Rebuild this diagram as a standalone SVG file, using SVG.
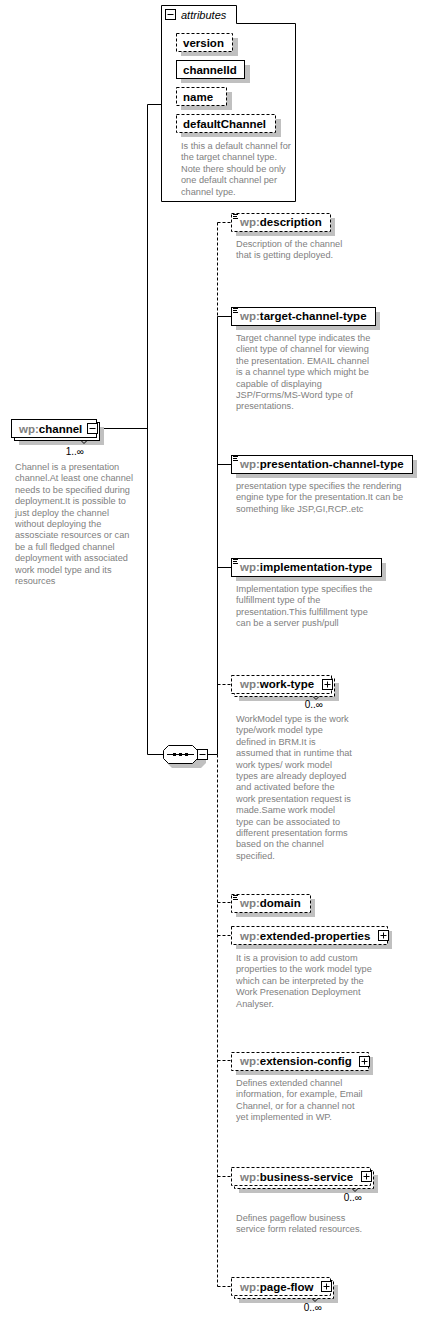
<svg xmlns="http://www.w3.org/2000/svg" width="427" height="1321" viewBox="0 0 427 1321">
<style>
.bg{fill:#fff}
.box{fill:#fff;stroke:#000;stroke-width:1}
.opt{stroke-dasharray:3,2}
.sh{fill:#c0c0c0}
.ln{fill:none;stroke:#000;stroke-width:1}
.dl{fill:none;stroke:#000;stroke-width:1;stroke-dasharray:3,2}
.lbl{font-family:"Liberation Sans",Arial,sans-serif;font-size:11.5px;font-weight:bold;fill:#000}
.ns{fill:#808080}
.doc{font-family:"Liberation Sans",Arial,sans-serif;font-size:9.2px;fill:#808080}
.mult{font-family:"Liberation Sans",Arial,sans-serif;font-size:10px;fill:#000}
.att{font-family:"Liberation Sans",Arial,sans-serif;font-size:11px;font-style:italic;fill:#000}
</style>
<defs>
<g id="simpleIcon"><path d="M2,1.5H7M2,3.5H6M2,5.5H7" stroke="#000" stroke-width="1" fill="none"/></g>
<g id="plusBtn"><rect x="0.5" y="0.5" width="10" height="10" fill="#fff" stroke="#000"/><path d="M2.5,5.5H8.5M5.5,2.5V8.5" stroke="#000"/></g>
<g id="minusBtn"><rect x="0.5" y="0.5" width="10" height="10" fill="#fff" stroke="#000"/><path d="M2.5,5.5H8.5" stroke="#000"/></g>
</defs>
<rect class="bg" x="0" y="0" width="427" height="1321"/>

<g id="connectors">
<path class="ln" d="M97,428.5H147.5M147.5,104.5V754.5M147.5,104.5H162M147.5,754.5H163M207,754.5H217.5"/>
<path class="dl" d="M217.5,222.5V316.5M217.5,754.5V1286.5"/>
<path class="ln" d="M217.5,316.5V754.5"/>
<path class="dl" d="M217.5,222.5H231M217.5,684.5H231M217.5,902.5H231M217.5,935.5H231M217.5,1060.5H231M217.5,1176.5H231M217.5,1286.5H231"/>
<path class="ln" d="M217.5,316.5H231M217.5,464.5H231M217.5,567.5H231"/>
</g>

<g id="attributes">
<path class="box" d="M161.5,201.5V5.5H236.5V23.5H295.5V201.5Z"/>
<use href="#minusBtn" x="165" y="9"/>
<text class="att" x="181" y="19">attributes</text>
<g id="attr-version">
<rect class="sh" x="181" y="38" width="57" height="18"/>
<rect class="box opt" x="176.5" y="33.5" width="56" height="18"/>
<text class="lbl" x="183" y="47">version</text>
</g>
<g id="attr-channelId">
<rect class="sh" x="181" y="65" width="69" height="18"/>
<rect class="box" x="176.5" y="60.5" width="68" height="18"/>
<text class="lbl" x="183" y="74">channelId</text>
</g>
<g id="attr-name">
<rect class="sh" x="181" y="92" width="51" height="18"/>
<rect class="box opt" x="176.5" y="87.5" width="50" height="18"/>
<text class="lbl" x="183" y="101">name</text>
</g>
<g id="attr-defaultChannel">
<rect class="sh" x="181" y="119" width="100" height="18"/>
<rect class="box opt" x="176.5" y="114.5" width="99" height="18"/>
<text class="lbl" x="183" y="128">defaultChannel</text>
<text class="doc"><tspan x="181" y="149">Is this a default channel for</tspan><tspan x="181" dy="11.4">the target channel type.</tspan><tspan x="181" dy="11.4">Note there should be only</tspan><tspan x="181" dy="11.4">one default channel per</tspan><tspan x="181" dy="11.4">channel type.</tspan></text>
</g>
</g>

<g id="channel">
<rect class="sh" x="19" y="427" width="85" height="18"/>
<rect class="box" x="14.5" y="422.5" width="85" height="18"/>
<rect class="box" x="11.5" y="419.5" width="85" height="18"/>
<text class="lbl" x="19" y="433"><tspan class="ns">wp:</tspan>channel</text>
<use href="#minusBtn" x="87" y="423"/>
<path class="ln" d="M81,440.5L84,443.5L87,440.5"/>
<text class="mult" x="84" y="455" text-anchor="end">1..∞</text>
<text class="doc"><tspan x="15" y="470">Channel is a presentation</tspan><tspan x="15" dy="11.4">channel.At least one channel</tspan><tspan x="15" dy="11.4">needs to be specified during</tspan><tspan x="15" dy="11.4">deployment.It is possible to</tspan><tspan x="15" dy="11.4">just deploy the channel</tspan><tspan x="15" dy="11.4">without deploying the</tspan><tspan x="15" dy="11.4">assosciate resources or can</tspan><tspan x="15" dy="11.4">be a full fledged channel</tspan><tspan x="15" dy="11.4">deployment with associated</tspan><tspan x="15" dy="11.4">work model type and its</tspan><tspan x="15" dy="11.4">resources</tspan></text>
</g>

<g id="sequence">
<path class="sh" d="M172,750H201L206,755V763L201,768H172L167,763V755Z"/>
<path class="box" d="M168.5,745.5H192.5L197.5,750.5V758.5L192.5,763.5H168.5L163.5,758.5V750.5Z"/>
<path class="ln" d="M167,754.5H194"/>
<rect x="173" y="753" width="3" height="3" fill="#000"/>
<rect x="179" y="753" width="3" height="3" fill="#000"/>
<rect x="185" y="753" width="3" height="3" fill="#000"/>
<use href="#minusBtn" x="197" y="749"/>
</g>

<g id="description">
<rect class="sh" x="236" y="218" width="99" height="18"/>
<rect class="box opt" x="231.5" y="213.5" width="99" height="18"/>
<use href="#simpleIcon" x="231" y="213"/>
<text class="lbl" x="240" y="226"><tspan class="ns">wp:</tspan>description</text>
<text class="doc"><tspan x="236" y="247">Description of the channel</tspan><tspan x="236" dy="11.4">that is getting deployed.</tspan></text>
</g>

<g id="target-channel-type">
<rect class="sh" x="236" y="312" width="144" height="18"/>
<rect class="box" x="231.5" y="307.5" width="144" height="18"/>
<use href="#simpleIcon" x="231" y="307"/>
<text class="lbl" x="240" y="320"><tspan class="ns">wp:</tspan>target-channel-type</text>
<text class="doc"><tspan x="236" y="341">Target channel type indicates the</tspan><tspan x="236" dy="11.4">client type of channel for viewing</tspan><tspan x="236" dy="11.4">the presentation. EMAIL channel</tspan><tspan x="236" dy="11.4">is a channel type which might be</tspan><tspan x="236" dy="11.4">capable of displaying</tspan><tspan x="236" dy="11.4">JSP/Forms/MS-Word type of</tspan><tspan x="236" dy="11.4">presentations.</tspan></text>
</g>

<g id="presentation-channel-type">
<rect class="sh" x="236" y="460" width="181" height="18"/>
<rect class="box" x="231.5" y="455.5" width="181" height="18"/>
<use href="#simpleIcon" x="231" y="455"/>
<text class="lbl" x="240" y="468"><tspan class="ns">wp:</tspan>presentation-channel-type</text>
<text class="doc"><tspan x="236" y="489">presentation type specifies the rendering</tspan><tspan x="236" dy="11.4">engine type for the presentation.It can be</tspan><tspan x="236" dy="11.4">something like JSP,GI,RCP..etc</tspan></text>
</g>

<g id="implementation-type">
<rect class="sh" x="236" y="563" width="150" height="18"/>
<rect class="box" x="231.5" y="558.5" width="150" height="18"/>
<use href="#simpleIcon" x="231" y="558"/>
<text class="lbl" x="240" y="571"><tspan class="ns">wp:</tspan>implementation-type</text>
<text class="doc"><tspan x="236" y="592">Implementation type specifies the</tspan><tspan x="236" dy="11.4">fulfillment type of the</tspan><tspan x="236" dy="11.4">presentation.This fulfillment type</tspan><tspan x="236" dy="11.4">can be a server push/pull</tspan></text>
</g>

<g id="work-type">
<rect class="sh" x="239" y="683" width="100" height="18"/>
<rect class="box opt" x="234.5" y="678.5" width="100" height="18"/>
<rect class="box opt" x="231.5" y="675.5" width="100" height="18"/>
<text class="lbl" x="240" y="688"><tspan class="ns">wp:</tspan>work-type</text>
<use href="#plusBtn" x="322" y="679"/>
<path class="ln" d="M313,696.5L316,699.5L319,696.5"/>
<text class="mult" x="323" y="708" text-anchor="end">0..∞</text>
<text class="doc"><tspan x="236" y="722">WorkModel type is the work</tspan><tspan x="236" dy="11.4">type/work model type</tspan><tspan x="236" dy="11.4">defined in BRM.It is</tspan><tspan x="236" dy="11.4">assumed that in runtime that</tspan><tspan x="236" dy="11.4">work types/ work model</tspan><tspan x="236" dy="11.4">types are already deployed</tspan><tspan x="236" dy="11.4">and activated before the</tspan><tspan x="236" dy="11.4">work presentation request is</tspan><tspan x="236" dy="11.4">made.Same work model</tspan><tspan x="236" dy="11.4">type can be associated to</tspan><tspan x="236" dy="11.4">different presentation forms</tspan><tspan x="236" dy="11.4">based on the channel</tspan><tspan x="236" dy="11.4">specified.</tspan></text>
</g>

<g id="domain">
<rect class="sh" x="236" y="899" width="79" height="18"/>
<rect class="box opt" x="231.5" y="894.5" width="79" height="18"/>
<use href="#simpleIcon" x="231" y="894"/>
<text class="lbl" x="240" y="907"><tspan class="ns">wp:</tspan>domain</text>
</g>

<g id="extended-properties">
<rect class="sh" x="236" y="931" width="156" height="18"/>
<rect class="box opt" x="231.5" y="926.5" width="156" height="18"/>
<text class="lbl" x="240" y="940"><tspan class="ns">wp:</tspan>extended-properties</text>
<use href="#plusBtn" x="378" y="930"/>
<text class="doc"><tspan x="236" y="961">It is a provision to add custom</tspan><tspan x="236" dy="11.4">properties to the work model type</tspan><tspan x="236" dy="11.4">which can be interpreted by the</tspan><tspan x="236" dy="11.4">Work Presenation Deployment</tspan><tspan x="236" dy="11.4">Analyser.</tspan></text>
</g>

<g id="extension-config">
<rect class="sh" x="236" y="1057" width="137" height="18"/>
<rect class="box opt" x="231.5" y="1052.5" width="137" height="18"/>
<text class="lbl" x="240" y="1065"><tspan class="ns">wp:</tspan>extension-config</text>
<use href="#plusBtn" x="359" y="1056"/>
<text class="doc"><tspan x="236" y="1086">Defines extended channel</tspan><tspan x="236" dy="11.4">information, for example, Email</tspan><tspan x="236" dy="11.4">Channel, or for a channel not</tspan><tspan x="236" dy="11.4">yet implemented in WP.</tspan></text>
</g>

<g id="business-service">
<rect class="sh" x="239" y="1175" width="139" height="18"/>
<rect class="box opt" x="234.5" y="1170.5" width="139" height="18"/>
<rect class="box opt" x="231.5" y="1167.5" width="139" height="18"/>
<text class="lbl" x="240" y="1181"><tspan class="ns">wp:</tspan>business-service</text>
<use href="#plusBtn" x="361" y="1171"/>
<path class="ln" d="M352,1188.5L355,1191.5L358,1188.5"/>
<text class="mult" x="362" y="1201" text-anchor="end">0..∞</text>
<text class="doc"><tspan x="236" y="1221">Defines pageflow business</tspan><tspan x="236" dy="11.4">service form related resources.</tspan></text>
</g>

<g id="page-flow">
<rect class="sh" x="239" y="1285" width="99" height="18"/>
<rect class="box opt" x="234.5" y="1280.5" width="99" height="18"/>
<rect class="box opt" x="231.5" y="1277.5" width="99" height="18"/>
<text class="lbl" x="240" y="1291"><tspan class="ns">wp:</tspan>page-flow</text>
<use href="#plusBtn" x="321" y="1281"/>
<path class="ln" d="M312,1298.5L315,1301.5L318,1298.5"/>
<text class="mult" x="322" y="1311" text-anchor="end">0..∞</text>
</g>
</svg>
